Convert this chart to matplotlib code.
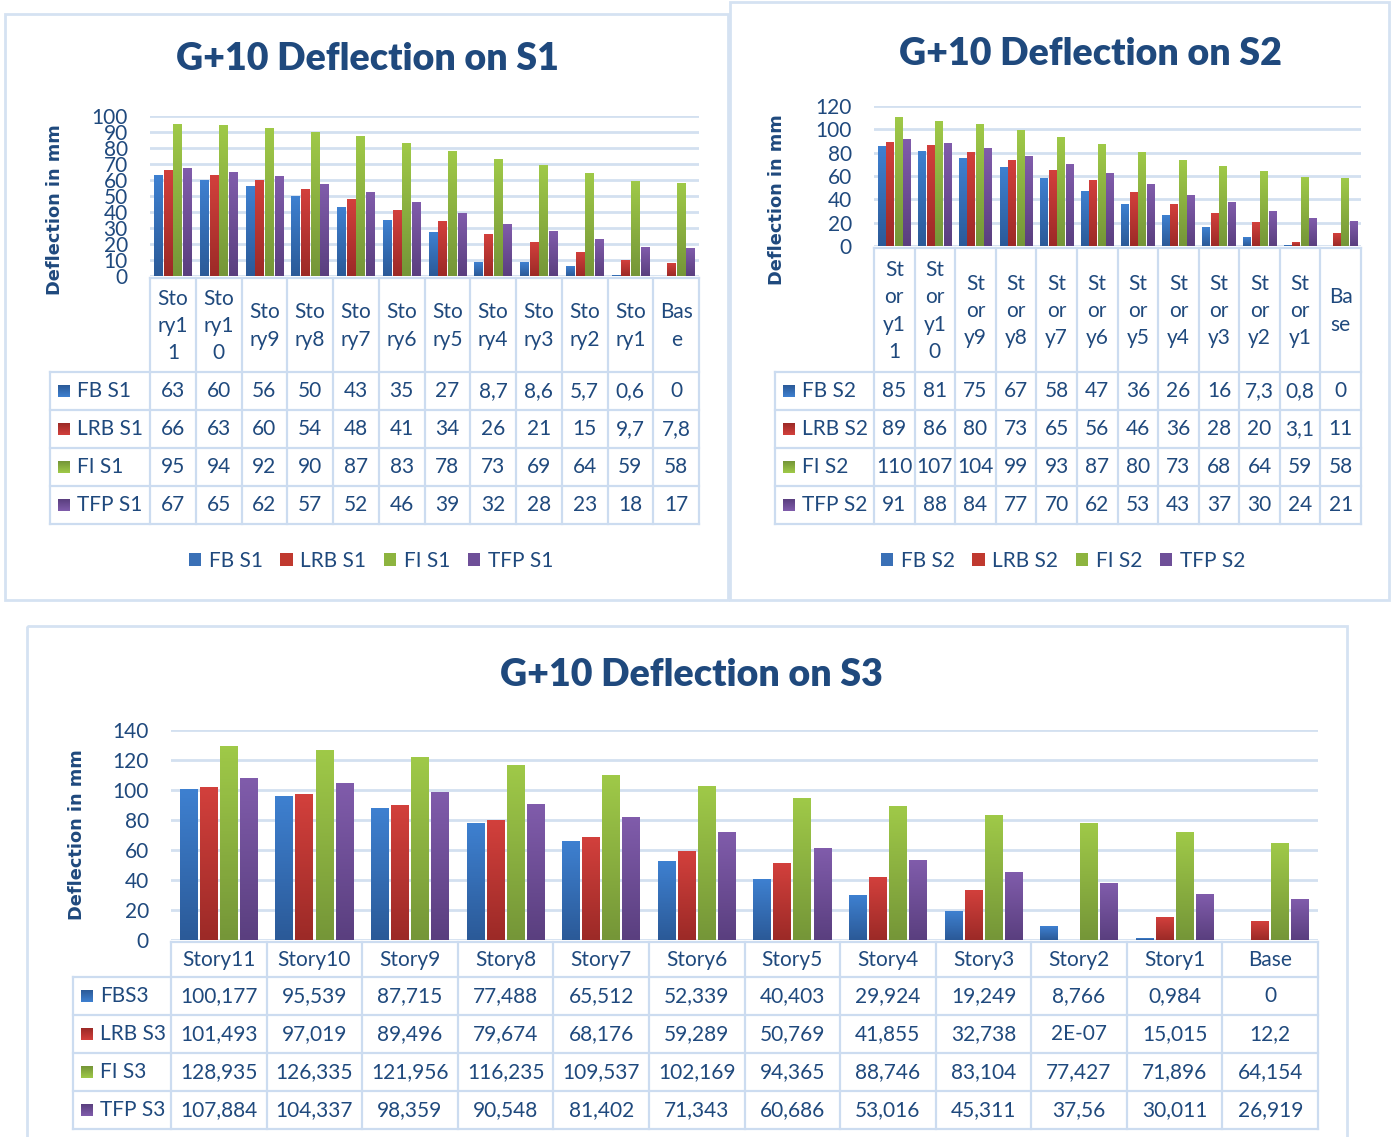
import numpy as np
import matplotlib.pyplot as plt
from matplotlib.colors import LinearSegmentedColormap
from matplotlib.patches import Rectangle, Patch

# ---- data ----
stories = ["Story11", "Story10", "Story9", "Story8", "Story7", "Story6",
           "Story5", "Story4", "Story3", "Story2", "Story1", "Base"]

fb_s1 = [63, 60, 56, 50, 43, 35, 27, 8.7, 8.6, 5.7, 0.6, 0]
lrb_s1 = [66, 63, 60, 54, 48, 41, 34, 26, 21, 15, 9.7, 7.8]
fi_s1 = [95, 94, 92, 90, 87, 83, 78, 73, 69, 64, 59, 58]
tfp_s1 = [67, 65, 62, 57, 52, 46, 39, 32, 28, 23, 18, 17]

fb_s2 = [85, 81, 75, 67, 58, 47, 36, 26, 16, 7.3, 0.8, 0]
lrb_s2 = [89, 86, 80, 73, 65, 56, 46, 36, 28, 20, 3.1, 11]
fi_s2 = [110, 107, 104, 99, 93, 87, 80, 73, 68, 64, 59, 58]
tfp_s2 = [91, 88, 84, 77, 70, 62, 53, 43, 37, 30, 24, 21]

fb_s3 = [100.177, 95.539, 87.715, 77.488, 65.512, 52.339, 40.403, 29.924, 19.249, 8.766, 0.984, 0]
lrb_s3 = [101.493, 97.019, 89.496, 79.674, 68.176, 59.289, 50.769, 41.855, 32.738, 2e-07, 15.015, 12.2]
fi_s3 = [128.935, 126.335, 121.956, 116.235, 109.537, 102.169, 94.365, 88.746, 83.104, 77.427, 71.896, 64.154]
tfp_s3 = [107.884, 104.337, 98.359, 90.548, 81.402, 71.343, 60.686, 53.016, 45.311, 37.56, 30.011, 26.919]

names_s1 = ["FB S1", "LRB S1", "FI S1", "TFP S1"]
names_s2 = ["FB S2", "LRB S2", "FI S2", "TFP S2"]
names_s3 = ["FBS3", "LRB S3", "FI S3", "TFP S3"]

# ---- style ----
W, H = 1392, 1137
TXT = "#1F497D"
LINE = "#CCDCF0"
FONT = "Lato"
# (top, bottom, mid) colours per series
COLS = [("#3E80D0", "#2B5A98", "#3A70B6"),
        ("#D2403C", "#9C2A27", "#C0392F"),
        ("#9FC948", "#759638", "#8DB43F"),
        ("#805CAB", "#5A3F7F", "#6E4F98")]

plt.rcParams['font.family'] = [FONT, 'DejaVu Sans']

fig = plt.figure(figsize=(W / 100, H / 100), dpi=100)
bg = fig.add_axes([0, 0, 1, 1], zorder=0)
bg.set_xlim(0, W)
bg.set_ylim(H, 0)
bg.axis('off')


def box(x0, y0, x1, y1):
    return [x0 / W, 1 - y1 / H, (x1 - x0) / W, (y1 - y0) / H]


def fmt(v):
    s = f"{v:g}".upper()
    return s.replace('.', ',')


def wrap(s, n):
    return "\n".join(s[i:i + n] for i in range(0, len(s), n))


def swatch(x, y, col, size=12):
    grad = np.linspace(0, 1, 32).reshape(-1, 1)
    cm = LinearSegmentedColormap.from_list("g", [col[1], col[0]])
    bg.imshow(grad, extent=(x, x + size, y + size / 2, y - size / 2),
              origin='upper', cmap=cm, aspect='auto', zorder=3)


def chart(series, names, title, title_xy, ylab_xy, x0, x1, ytop, ybot,
          ymax, ystep, hdr_bot, lab_left, wrap_n, legend_x=None):
    ax = fig.add_axes(box(x0, ytop, x1, ybot), zorder=2)
    ax.patch.set_alpha(0)
    w, step = 0.185, 0.21
    grad = np.linspace(0, 1, 64).reshape(-1, 1)
    for j, vals in enumerate(series):
        xs = np.arange(len(vals)) + (j - 1.5) * step
        bars = ax.bar(xs, vals, width=w, color=COLS[j][2], lw=0, zorder=2)
        cm = LinearSegmentedColormap.from_list("g%d" % j, [COLS[j][1], COLS[j][0]])
        for b, v in zip(bars, vals):
            if v > 0.01 * ystep:
                ax.imshow(grad, extent=(b.get_x(), b.get_x() + w, 0, v),
                          origin='lower', cmap=cm, aspect='auto', zorder=3)
            else:
                b.set_visible(v > 1e-3)
    ax.set_xlim(-0.5, 11.5)
    ax.set_ylim(0, ymax)
    ax.set_yticks(np.arange(0, ymax + 1, ystep))
    ax.set_xticks([])
    ax.tick_params(axis='y', length=0, pad=16, labelsize=15, labelcolor=TXT)
    ax.yaxis.grid(True, color="#D3E0F0", lw=2)
    ax.set_axisbelow(True)
    for sp in ax.spines.values():
        sp.set_visible(False)

    bg.text(title_xy[0], title_xy[1], title, ha='center', va='center',
            fontsize=27, fontweight=800, color=TXT)
    bg.text(ylab_xy[0], ylab_xy[1], "Deflection in mm", rotation=90,
            ha='center', va='center', fontsize=12.8, fontweight='bold',
            color=TXT, family='DejaVu Sans')

    # data table
    cw = (x1 - x0) / 12
    rows = [hdr_bot + 38 * k for k in range(5)]
    htop = ybot + 2
    for k in range(13):
        bg.plot([x0 + k * cw] * 2, [htop, rows[-1]], color=LINE, lw=1.6, zorder=1)
    bg.plot([x0, x1], [htop, htop], color=LINE, lw=1.6, zorder=1)
    bg.plot([lab_left, lab_left], [rows[0], rows[-1]], color=LINE, lw=1.6, zorder=1)
    for r in rows:
        bg.plot([lab_left, x1], [r, r], color=LINE, lw=1.6, zorder=1)
    for k, s in enumerate(stories):
        lab = wrap(s, wrap_n) if wrap_n else s
        bg.text(x0 + (k + 0.5) * cw, (htop + hdr_bot) / 2 + 1, lab, ha='center',
                va='center', fontsize=15, color=TXT, linespacing=1.45)
    for j, vals in enumerate(series):
        yc = (rows[j] + rows[j + 1]) / 2
        swatch(lab_left + 8, yc, COLS[j])
        bg.text(lab_left + 27, yc, names[j], ha='left', va='center',
                fontsize=15, color=TXT)
        for k, v in enumerate(vals):
            bg.text(x0 + (k + 0.5) * cw, yc, fmt(v), ha='center', va='center',
                    fontsize=15, color=TXT)

    if legend_x is not None:
        handles = [Patch(facecolor=c[2]) for c in COLS]
        fig.legend(handles, names, loc='center', ncol=4, frameon=False,
                   bbox_to_anchor=(legend_x / W, 1 - 561 / H),
                   fontsize=15, labelcolor=TXT, handlelength=0.6,
                   handleheight=0.6, handletextpad=0.35, columnspacing=0.85)


# panel frames
for (px, py, pw, ph) in [(5, 14, 723, 586), (730, 2, 659, 598), (27, 626, 1320, 520)]:
    bg.add_patch(Rectangle((px, py), pw, ph, fill=False, ec="#D5E2F2", lw=2, zorder=1))

chart([fb_s1, lrb_s1, fi_s1, tfp_s1], names_s1, "G+10 Deflection on S1",
      (367, 59), (55, 210), 150, 699, 116, 276, 100, 10, 372, 50, 3, legend_x=371)
chart([fb_s2, lrb_s2, fi_s2, tfp_s2], names_s2, "G+10 Deflection on S2",
      (1090, 54), (777, 200), 874, 1361, 106, 246, 120, 20, 372, 775, 2, legend_x=1063)
chart([fb_s3, lrb_s3, fi_s3, tfp_s3], names_s3, "G+10 Deflection on S3",
      (691, 675), (77, 835), 171, 1318, 730, 940, 140, 20, 977, 73, None)

fig.savefig("out.png", dpi=100)
